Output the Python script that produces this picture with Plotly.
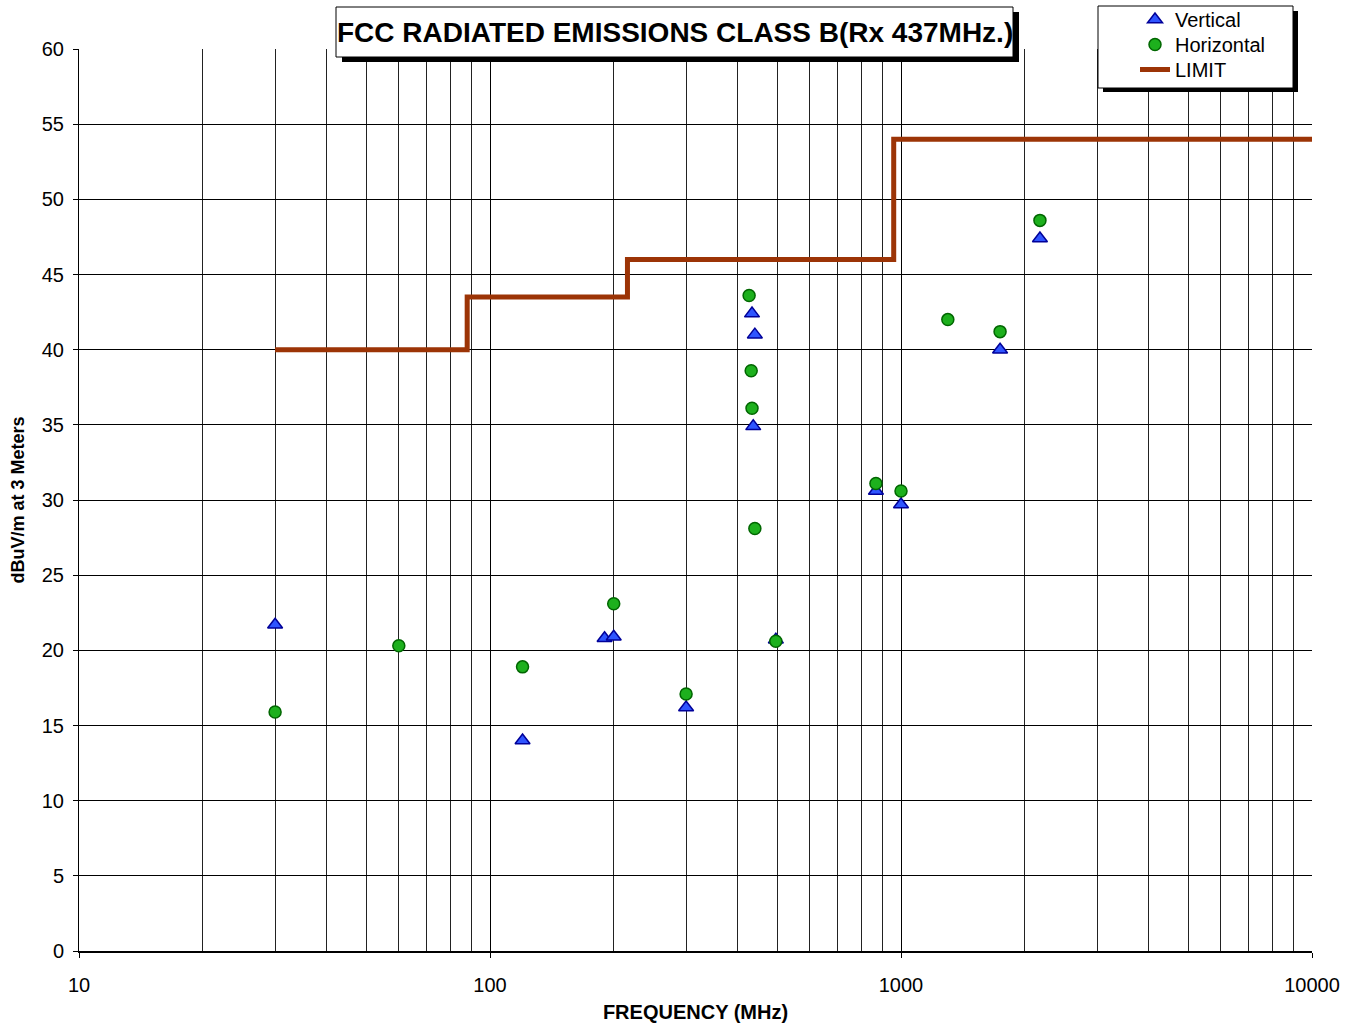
import plotly.graph_objects as go

# ---- data ----
vert_freq = [30, 120, 190, 200, 300, 434, 441, 437, 496, 869, 1000, 1742, 2178]
vert_level = [21.7, 14.0, 20.8, 20.9, 16.2, 42.4, 41.0, 34.9, 20.7, 30.6, 29.7, 40.0, 47.4]

horiz_freq = [30, 60, 120, 200, 300, 427, 432, 434, 441, 496, 869, 1000, 1300, 1742, 2178]
horiz_level = [15.9, 20.3, 18.9, 23.1, 17.1, 43.6, 38.6, 36.1, 28.1, 20.6, 31.1, 30.6, 42.0, 41.2, 48.6]

limit_freq = [30, 88, 88, 216, 216, 960, 960, 10000]
limit_level = [40, 40, 43.5, 43.5, 46, 46, 54, 54]

x_tick_vals = [10, 100, 1000, 10000]
x_tick_text = ["10", "100", "1000", "10000"]

title_text = "FCC RADIATED EMISSIONS CLASS B(Rx 437MHz.)"

FONT = "Liberation Sans, Arial, sans-serif"

# plot-area geometry in pixels (for paper-coordinate boxes)
L, R, T, B = 79, 1312, 49, 951
W, H = R - L, B - T


def px(x):
    return (x - L) / W


def py(y):
    return (B - y) / H


fig = go.Figure()

fig.add_trace(go.Scatter(
    x=limit_freq, y=limit_level, mode="lines", name="LIMIT",
    line=dict(color="#9C3406", width=5), legend="legend3",
))
fig.add_trace(go.Scatter(
    x=vert_freq, y=vert_level, mode="markers", name="Vertical",
    marker=dict(symbol="triangle-up", size=13, color="#2F55FF",
                line=dict(color="#000099", width=1.5)), legend="legend",
))
fig.add_trace(go.Scatter(
    x=horiz_freq, y=horiz_level, mode="markers", name="Horizontal",
    marker=dict(symbol="circle", size=12, color="#1DB01D",
                line=dict(color="#006600", width=1.5)), legend="legend2",
))

shapes = [
    # title box shadow + box
    dict(type="rect", xref="paper", yref="paper", x0=px(342), x1=px(1019), y0=py(62), y1=py(12),
         fillcolor="black", line=dict(width=0), layer="above"),
    dict(type="rect", xref="paper", yref="paper", x0=px(336), x1=px(1013), y0=py(57), y1=py(7),
         fillcolor="white", line=dict(color="black", width=1), layer="above"),
    # legend box shadow + box
    dict(type="rect", xref="paper", yref="paper", x0=px(1103), x1=px(1298), y0=py(92), y1=py(11),
         fillcolor="black", line=dict(width=0), layer="above"),
    dict(type="rect", xref="paper", yref="paper", x0=px(1098), x1=px(1293), y0=py(88), y1=py(6),
         fillcolor="white", line=dict(color="black", width=1), layer="above"),
]


def leg(ytop):
    return dict(
        x=px(1135), y=py(ytop), xanchor="left", yanchor="top",
        bgcolor="rgba(0,0,0,0)", borderwidth=0,
        font=dict(family=FONT, size=20, color="black"),
        itemwidth=30,
    )


fig.update_layout(
    width=1362, height=1030,
    margin=dict(l=L, r=1362 - R, t=T, b=1030 - B, autoexpand=False),
    paper_bgcolor="white", plot_bgcolor="white",
    font=dict(family=FONT, size=20, color="black"),
    showlegend=True,
    legend=leg(0), legend2=leg(25), legend3=leg(50),
    shapes=shapes,
    annotations=[
        dict(text="<b>" + title_text + "</b>", xref="paper", yref="paper",
             x=px(675), y=py(32), xanchor="center", yanchor="middle", showarrow=False,
             font=dict(family=FONT, size=28, color="black")),
    ],
    xaxis=dict(
        type="log", range=[1, 4],
        tickvals=x_tick_vals, ticktext=x_tick_text,
        showgrid=True, gridcolor="black", gridwidth=1,
        minor=dict(showgrid=True, gridcolor="#222222", gridwidth=1, dtick="D1", ticks=""),
        ticks="outside", ticklen=5, tickcolor="black",
        showline=True, linecolor="black", linewidth=2, mirror=False,
        tickfont=dict(family=FONT, size=20), ticklabelstandoff=10,
        title=dict(text="<b>FREQUENCY (MHz)</b>", font=dict(family=FONT, size=20), standoff=10),
        zeroline=False,
    ),
    yaxis=dict(
        range=[0, 60], dtick=5,
        showgrid=True, gridcolor="black", gridwidth=1,
        ticks="outside", ticklen=5, tickcolor="black",
        showline=True, linecolor="black", linewidth=1,
        tickfont=dict(family=FONT, size=20), ticklabelstandoff=5,
        title=dict(text="<b>dBuV/m at 3 Meters</b>", font=dict(family=FONT, size=18), standoff=12),
        zeroline=False,
    ),
)

fig.write_html("out.html")
